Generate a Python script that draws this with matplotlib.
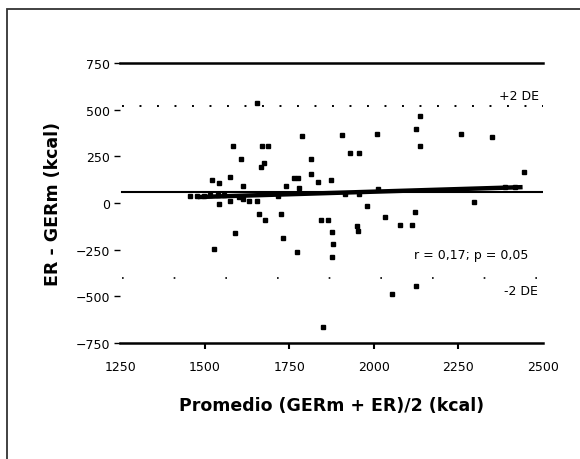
import numpy as np
import matplotlib.pyplot as plt
from matplotlib.patches import Rectangle

# datos Bland-Altman
promedio = [1655, 1907, 2010, 1789, 1584, 1670, 1688, 1608, 1815, 1931, 1957,
            1667, 1676, 1522, 1575, 1765, 1777, 1815, 1836, 1874, 1543, 1614,
            1741, 1780, 1457, 1478, 1499, 1516, 1540, 1558, 1602, 1614, 1718,
            1916, 1957, 2013, 1543, 1575, 1632, 1655, 1661, 1679, 1726, 1981,
            2034, 2079, 1845, 1865, 1877, 1951, 1954, 1590, 1732, 1880, 1528,
            1774, 1877, 2055, 1851, 2138, 2126, 2259, 2351, 2138, 2445, 2295,
            2123, 2114, 2126, 2389, 2419]
diferencia = [535, 364, 369, 358, 305, 305, 305, 235, 235, 268, 268,
              193, 214, 123, 139, 134, 134, 155, 112, 123, 107, 91,
              91, 80, 37, 37, 37, 43, 43, 43, 32, 21, 37,
              48, 48, 75, -5, 11, 11, 11, -59, -91, -59, -16,
              -75, -118, -91, -91, -155, -123, -150, -160, -187, -219, -246,
              -262, -289, -487, -663, 465, 396, 369, 353, 305, 166, 5,
              -48, -118, -444, 86, 86]

media = 59
lim_sup = 519
lim_inf = -399
recta_x = [1480, 2440]
recta_y = [32, 85]

xticks = [1250, 1500, 1750, 2000, 2250, 2500]
yticks = [750, 500, 250, 0, -250, -500, -750]

fig = plt.figure(figsize=(5.8, 4.6), dpi=100)
ax = fig.add_axes([0.207, 0.252, 0.729, 0.609])

# marco exterior
fig.patches.append(Rectangle((7 / 580, -0.1), 1.2, 1.1 - 10 / 460,
                             transform=fig.transFigure, fill=False,
                             edgecolor='#333333', linewidth=1.3))

ax.axhline(media, xmin=0.005, color='black', lw=1.5)
ax.plot(recta_x, recta_y, color='black', lw=3.2, solid_capstyle='butt')
ax.axhline(lim_sup, xmin=0.005, color='black', lw=1.4, linestyle=(0, (1, 8)))
ax.axhline(lim_inf, xmin=0.005, color='black', lw=1.2, linestyle=(0, (1, 30)))
ax.plot(promedio, diferencia, 's', color='black', markersize=3.2)

ax.text(2490, 575, "+2 DE", ha='right', va='center', fontsize=9)
ax.text(2120, -275, "r = 0,17; p = 0,05", ha='left', va='center', fontsize=9)
ax.text(2485, -470, "-2 DE", ha='right', va='center', fontsize=9)

ax.set_xlim(1250, 2500)
ax.set_ylim(-750, 750)
ax.set_xticks(xticks)
ax.set_yticks(yticks)
ax.spines['left'].set_visible(False)
ax.spines['right'].set_visible(False)
ax.spines['top'].set_linewidth(1.8)
ax.spines['bottom'].set_linewidth(1.8)
ax.tick_params(axis='y', length=4, width=1, pad=3, labelsize=9)
ax.tick_params(axis='x', length=4, width=1.5, pad=8, labelsize=9)
ticks = ax.xaxis.get_major_ticks()
ticks[0].tick1line.set_visible(False)
ticks[-1].tick1line.set_visible(False)

ax.set_ylabel("ER - GERm (kcal)", fontsize=12.5, fontweight='bold', labelpad=10)
ax.set_xlabel("Promedio (GERm + ER)/2 (kcal)", fontsize=12.5, fontweight='bold', labelpad=17)

fig.savefig("out.png", dpi=100)
